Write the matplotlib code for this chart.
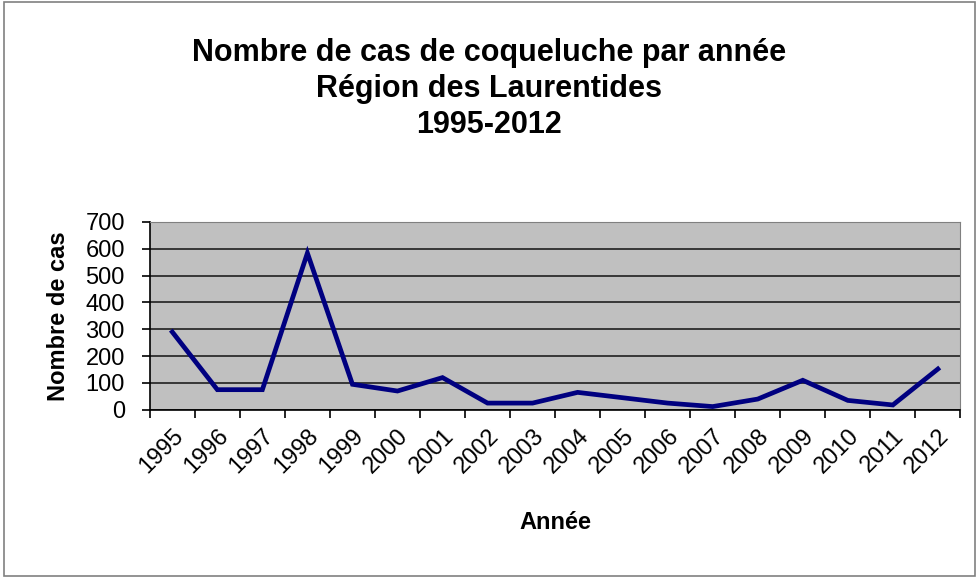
"""
    Pertussis cases per year, Laurentides region, 1995-2012.
"""

# ------ Environment Setup ------ #
import numpy as np
import matplotlib
matplotlib.use("Agg")
import matplotlib.pyplot as plt
from matplotlib.transforms import ScaledTranslation


# ------ Data ------ #
years = ["1995", "1996", "1997", "1998", "1999", "2000", "2001", "2002", "2003",
         "2004", "2005", "2006", "2007", "2008", "2009", "2010", "2011", "2012"]
cases = [290, 75, 75, 584, 95, 70, 120, 25, 25,
         65, 45, 25, 12, 40, 110, 35, 18, 152]
y_ticks = [0, 100, 200, 300, 400, 500, 600, 700]


# ------ Plotting ------ #
plt.rcParams["font.family"] = ["Liberation Sans", "DejaVu Sans"]

fig = plt.figure(figsize=(9.79, 5.78), dpi=100)
ax = fig.add_axes([0.153, 0.291, 0.828, 0.325])

# frame round the whole figure
fig.patches.append(plt.Rectangle((0.004, 0.004), 0.992, 0.992, transform=fig.transFigure,
                                 fill=False, edgecolor="#808080", linewidth=1.2))

x = np.arange(len(years))
ax.set_facecolor("#C0C0C0")
ax.plot(x, cases, color="#000080", linewidth=3.4, solid_joinstyle="miter", zorder=3)

# axes & grid
ax.set_xlim(-0.5, len(years) - 0.5)
ax.set_ylim(0, 700)
ax.set_yticks(y_ticks)
ax.yaxis.grid(True, color="#202020", linewidth=1.2)
ax.set_axisbelow(True)

ax.set_xticks(x)
ax.set_xticklabels(years, rotation=45, ha="right", va="top", rotation_mode="anchor", fontsize=17)
for lbl in ax.get_xticklabels():
    lbl.set_transform(lbl.get_transform() + ScaledTranslation(8 / 72, 0, fig.dpi_scale_trans))
ax.set_xticks(np.arange(-0.5, len(years)), minor=True)
ax.tick_params(axis="x", which="major", length=0, pad=11)
ax.tick_params(axis="x", which="minor", length=6, width=1.2, color="black")
ax.tick_params(axis="y", length=6, width=1.2, labelsize=17, pad=12)

for side in ["top", "right"]:
    ax.spines[side].set_color("#808080")
for side in ["left", "bottom"]:
    ax.spines[side].set_color("black")
    ax.spines[side].set_linewidth(1.2)

# labels
ax.set_ylabel("Nombre de cas", fontsize=17, weight="bold", labelpad=11)
ax.set_xlabel("Année", fontsize=17, weight="bold", labelpad=24)
fig.text(0.5, 0.935, "Nombre de cas de coqueluche par année\nRégion des Laurentides\n1995-2012",
         ha="center", va="top", fontsize=22, weight="bold", linespacing=1.28)

plt.savefig("out.png", dpi=100)
